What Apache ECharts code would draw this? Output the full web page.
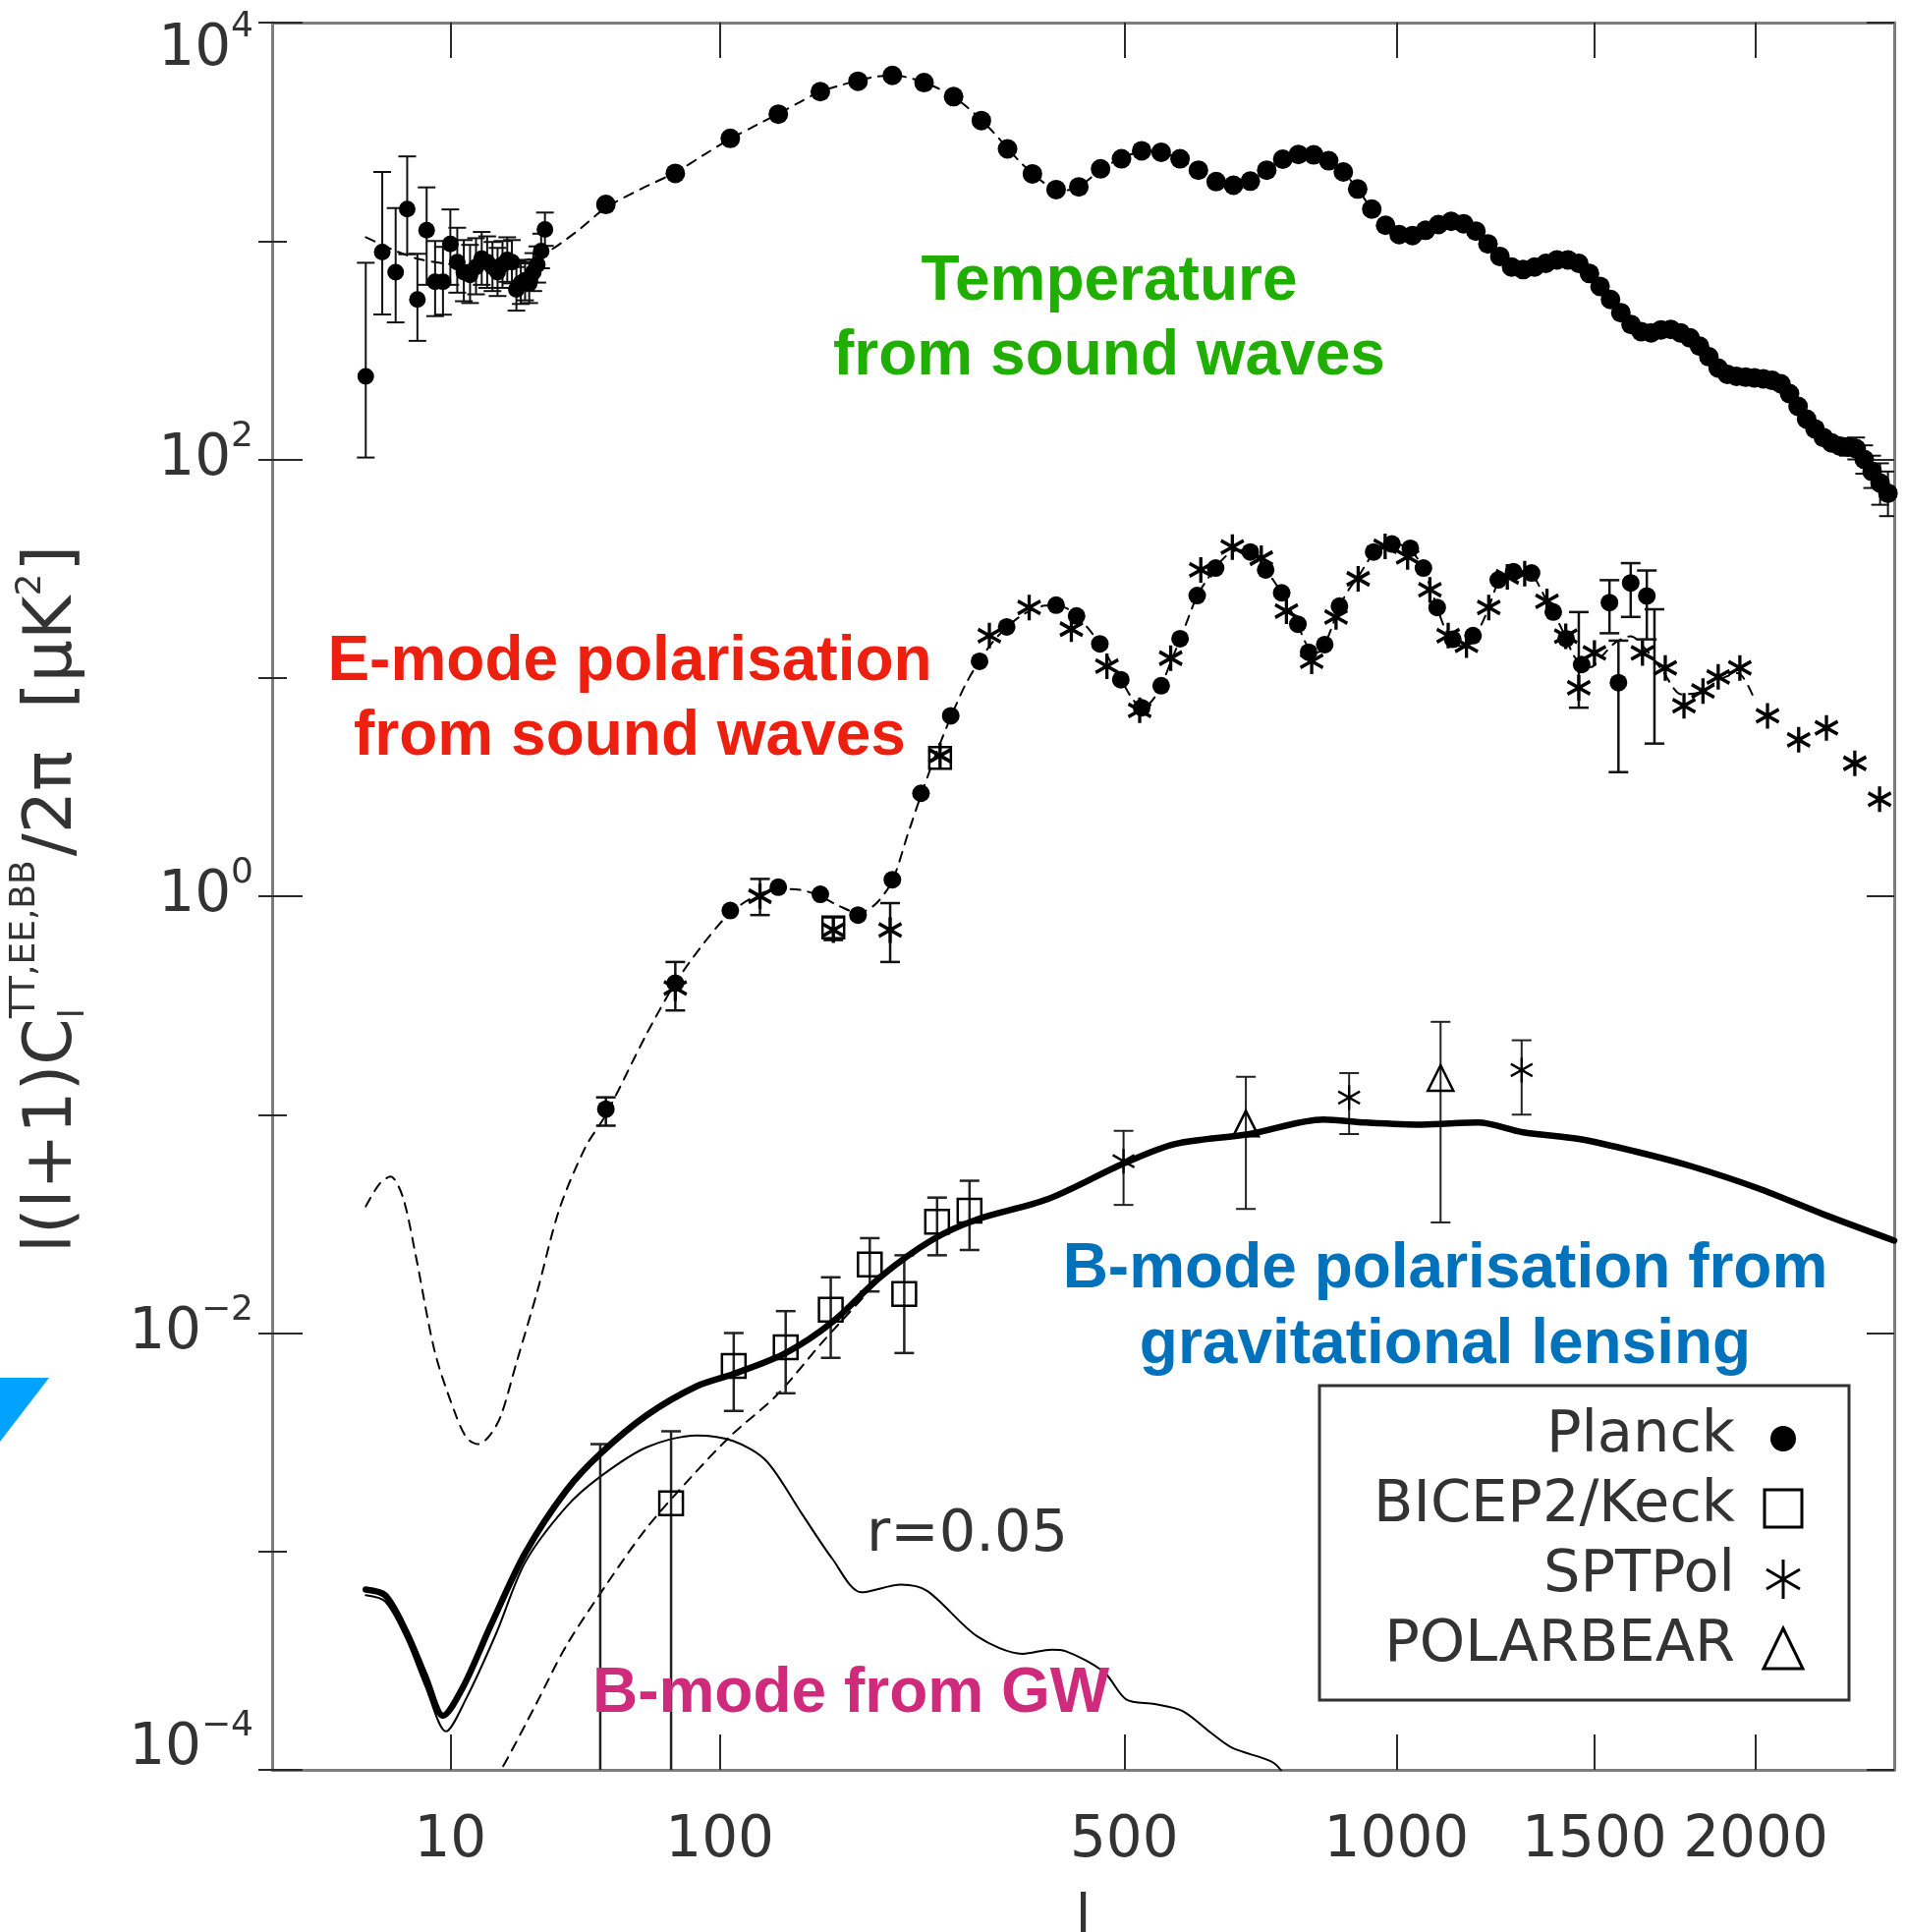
<!DOCTYPE html>
<html>
<head>
<meta charset="utf-8">
<script src="https://cdn.jsdelivr.net/npm/echarts@6/dist/echarts.min.js"></script>
<style>
  html, body { margin: 0; padding: 0; background: #fff; }
  #chart { width: 1940px; height: 1966px; }
</style>
</head>
<body>
<div id="chart"></div>
<script>
// ---- axis settings -------------------------------------------------------
const lTicks = [10, 100, 500, 1000, 1500, 2000];   // multipole tick labels
const lMax = 2500;
const yExpMin = -4, yExpMax = 4;                      // decades shown

// ---- temperature (TT) ------------------------------------------------------
// Planck low-l: [l, D_l, low, high]
const ttLowL = [
  [2, 240, 102, 795], [3, 890, 461, 2070], [4, 720, 424, 1415], [5, 1400, 870, 2440],
  [6, 540, 349, 874], [7, 1120, 630, 1760], [8, 650, 453, 1000], [9, 650, 460, 940],
  [10, 970, 630, 1395], [11, 800, 580, 1150], [12, 720, 530, 1010], [13, 700, 520, 960],
  [14, 760, 570, 1030], [15, 830, 630, 1100], [16, 800, 610, 1050], [17, 760, 590, 990],
  [18, 720, 560, 930], [19, 780, 610, 1000], [20, 820, 650, 1040], [21, 800, 640, 1010],
  [22, 600, 480, 760], [23, 640, 515, 800], [24, 660, 535, 820], [25, 640, 520, 790],
  [26, 720, 590, 880], [27, 780, 645, 945], [28, 900, 750, 1080], [29, 1130, 950, 1350]
];
// Planck binned: [l, D_l]
const ttBinned = [
  [48, 1470], [77, 2040], [106, 2950], [136, 3810], [166, 4830], [196, 5390], [226, 5730],
  [256, 5310], [286, 4580], [316, 3560], [346, 2640], [376, 2030], [406, 1720], [436, 1770],
  [466, 2140], [496, 2380], [526, 2590], [556, 2550], [586, 2380], [616, 2110], [646, 1870],
  [676, 1800], [706, 1880], [736, 2110], [766, 2370], [796, 2490], [826, 2480], [856, 2330],
  [886, 2070], [916, 1730], [946, 1400], [976, 1180], [1006, 1070], [1036, 1060], [1066, 1120],
  [1096, 1190], [1126, 1230], [1156, 1200], [1186, 1110], [1216, 970], [1246, 850], [1276, 760],
  [1306, 740], [1336, 760], [1366, 790], [1396, 820], [1426, 820], [1456, 790], [1486, 710],
  [1516, 620], [1546, 540], [1576, 470], [1606, 415], [1636, 385], [1666, 380], [1696, 392],
  [1726, 394], [1756, 380], [1786, 360], [1816, 330], [1846, 295], [1876, 262], [1906, 245],
  [1936, 240], [1966, 238], [1996, 236], [2026, 234], [2056, 230], [2086, 222], [2116, 200],
  [2146, 175], [2176, 153], [2206, 138], [2236, 126], [2266, 119], [2296, 115], [2326, 114],
  [2356, 112], [2386, 100], [2416, 88], [2446, 78], [2476, 70]
];
// high-l error bars: [l, low, high]
const ttBinnedErr = [
  [2326, 104, 125], [2356, 100, 126], [2386, 86, 116], [2416, 74, 104], [2446, 62, 96], [2476, 55, 88]
];
// best-fit model (dashed)
const ttModel = [
  [2, 1040], [3, 960], [4, 900], [6, 830], [9, 790], [13, 775], [20, 790], [28, 860], [38, 1100],
  [48, 1420], [62, 1740], [77, 2060], [92, 2500], [106, 2940], [121, 3370], [136, 3830],
  [151, 4330], [166, 4830], [181, 5150], [196, 5430], [211, 5650], [226, 5740], [241, 5600],
  [256, 5320], [271, 4980], [286, 4580], [301, 4080], [316, 3580], [331, 3100], [346, 2660],
  [361, 2300], [376, 2040], [391, 1840], [406, 1730], [421, 1710], [436, 1770], [451, 1930],
  [466, 2130], [481, 2270], [496, 2390], [511, 2500], [526, 2580], [541, 2590], [556, 2550],
  [571, 2470], [586, 2380], [601, 2240], [616, 2110], [631, 1980], [646, 1880], [661, 1820],
  [676, 1800], [691, 1830], [706, 1890], [721, 1990], [736, 2110], [751, 2250], [766, 2370],
  [781, 2450], [796, 2490], [811, 2500], [826, 2480], [841, 2420], [856, 2330], [871, 2210],
  [886, 2070], [901, 1900], [916, 1730], [946, 1400], [976, 1180], [1006, 1070], [1036, 1060],
  [1066, 1120], [1096, 1190], [1126, 1230], [1156, 1200], [1186, 1110], [1216, 970], [1246, 850],
  [1276, 770], [1306, 745], [1336, 760], [1366, 790], [1396, 815], [1426, 815], [1456, 785],
  [1486, 710], [1516, 620], [1546, 540], [1576, 470], [1606, 420], [1636, 390], [1666, 385],
  [1696, 392], [1726, 392], [1756, 380], [1786, 358], [1816, 328], [1846, 295], [1876, 265],
  [1906, 248], [1936, 240], [1996, 236], [2056, 228], [2116, 198], [2176, 154], [2236, 128],
  [2296, 115], [2356, 108], [2416, 90], [2476, 71], [2500, 66]
];

// ---- E-mode polarisation (EE) ---------------------------------------------
const eePlanck = [
  [48, 0.106], [77, 0.40], [106, 0.86], [136, 1.10], [166, 1.02], [196, 0.82], [226, 1.19],
  [253, 2.96], [283, 6.7], [314, 11.9], [345, 17.1], [406, 21.5], [433, 19.2], [465, 14.3],
  [495, 9.8], [526, 7.3], [556, 9.2], [586, 15.1], [614, 23.8], [645, 31.8], [706, 37.7],
  [734, 31.2], [764, 24.5], [795, 17.6], [816, 13.1], [848, 14.2], [878, 21.3], [950, 37.7],
  [990, 41], [1031, 39.2], [1061, 31.8], [1093, 21], [1130, 15], [1179, 15.6], [1242, 28.1],
  [1281, 30.6], [1328, 30.2], [1386, 20], [1421, 15.1], [1464, 11.5], [1543, 22.1],
  [1569, 9.5], [1605, 27.2], [1653, 23.7]
];
const eeSptpol = [
  [77, 0.38], [124, 1.0], [176, 0.70], [224, 0.70], [272, 4.4], [325, 15.6], [372, 21],
  [426, 16.7], [475, 11.3], [523, 7.1], [571, 12.3], [620, 31.2], [674, 39.7], [726, 35.3],
  [773, 20.2], [822, 11.9], [871, 19], [917, 28.4], [975, 40], [1025, 35.8], [1076, 25.3],
  [1119, 15.6], [1163, 14.1], [1218, 21], [1265, 29], [1310, 30], [1369, 22.4], [1420, 15.5],
  [1456, 9.0], [1500, 13], [1640, 13], [1709, 11.1], [1767, 7.45], [1827, 8.7], [1876, 10.1],
  [1947, 11.1], [2040, 6.7], [2148, 5.2], [2247, 5.9], [2351, 4.06], [2444, 2.78]
];
const eeBicep = [[176, 0.72], [272, 4.3]];
// error bars: [l, low, high]
const eeErr = [
  [48, 0.089, 0.12], [77, 0.30, 0.50], [124, 0.82, 1.2], [176, 0.63, 0.80], [224, 0.50, 0.93],
  [1456, 7.3, 20], [1543, 16, 28], [1569, 3.7, 14.8], [1605, 19, 33.5], [1653, 15, 31],
  [1676, 5.0, 20.6]
];
const eeModel = [
  [2, 0.038], [2.8, 0.048], [3.6, 0.052], [4.6, 0.042], [5.8, 0.023], [8, 0.0081], [10.8, 0.0042],
  [12.5, 0.0033], [14.4, 0.0031], [16.5, 0.0034], [18.7, 0.0042], [22, 0.0073], [27, 0.0155],
  [33, 0.037], [41, 0.071], [48, 0.10], [64, 0.234], [77, 0.40], [92, 0.62], [106, 0.84],
  [121, 1.0], [136, 1.08], [151, 1.07], [166, 1.0], [181, 0.9], [196, 0.84], [211, 0.92],
  [226, 1.18], [240, 1.9], [253, 2.9], [268, 4.5], [283, 6.6], [298, 9.2], [314, 12],
  [330, 14.8], [345, 17], [360, 19], [376, 20.5], [391, 21.4], [406, 21.5], [420, 20.8],
  [433, 19.2], [449, 16.8], [465, 14.3], [480, 11.9], [495, 9.9], [510, 8.2], [526, 7.3],
  [541, 7.8], [556, 9.2], [571, 11.8], [586, 15], [600, 19], [614, 23.8], [630, 28], [645, 32],
  [660, 35.5], [676, 38], [691, 38.5], [706, 37.6], [720, 35], [734, 31.3], [749, 27.8],
  [764, 24.4], [780, 20.6], [795, 17.5], [808, 14.8], [822, 13.2], [835, 13.1], [848, 14.2],
  [863, 17.2], [878, 21.2], [898, 25.5], [917, 29], [935, 33.5], [950, 37.5], [970, 40.5],
  [990, 41.2], [1010, 40.6], [1031, 38.8], [1046, 35.5], [1061, 31.8], [1077, 26], [1093, 21],
  [1109, 17.2], [1125, 15.2], [1145, 14], [1163, 14], [1179, 15.2], [1200, 17.6], [1218, 21],
  [1242, 27.5], [1262, 30], [1281, 30.8], [1305, 30.8], [1328, 30], [1350, 26], [1369, 22.4],
  [1386, 20], [1421, 15.2], [1440, 12.8], [1464, 11.4], [1490, 11.2], [1520, 12.5],
  [1560, 14.5], [1605, 15.5], [1650, 13.5], [1700, 10.8], [1760, 8.4], [1820, 8.6],
  [1880, 9.8], [1940, 10.5], [1990, 8.3]
];

// ---- B-mode polarisation (BB) ---------------------------------------------
const bbTotal = [
  [2, 6.7e-4], [3.2, 6.3e-4], [4.9, 4.3e-4], [6.9, 2.65e-4], [9, 1.77e-4], [11.9, 2.4e-4],
  [16.7, 4.6e-4], [24, 9.8e-4], [35, 1.9e-3], [46, 2.8e-3], [64, 4.2e-3], [87.5, 5.7e-3],
  [108, 6.5e-3], [141, 8.1e-3], [175, 0.0112], [216, 0.0182], [264, 0.0267], [311, 0.0331],
  [395, 0.041], [499, 0.0597], [578, 0.0734], [705, 0.0815], [845, 0.095], [934, 0.092],
  [1058, 0.090], [1191, 0.092], [1306, 0.083], [1456, 0.0774], [1616, 0.068], [1787, 0.0582],
  [2006, 0.0461], [2240, 0.0348], [2500, 0.0265]
];
const bbGw = [
  [2, 6.3e-4], [3.2, 5.9e-4], [4.9, 4.0e-4], [6.9, 2.4e-4], [9.4, 1.5e-4], [12.3, 2.1e-4],
  [17.7, 4.2e-4], [24, 8.9e-4], [35, 1.6e-3], [46, 2.2e-3], [64, 3.0e-3], [87.5, 3.4e-3],
  [108, 3.2e-3], [128, 2.6e-3], [152, 1.5e-3], [175, 9.3e-4], [199, 6.5e-4], [234, 7.05e-4],
  [259, 6.6e-4], [311, 4.1e-4], [364, 3.4e-4], [400, 3.55e-4], [418, 3.5e-4], [471, 2.8e-4],
  [503, 2.1e-4], [546, 2.0e-4], [590, 1.86e-4], [634, 1.5e-4], [674, 1.26e-4], [742, 1.1e-4],
  [762, 1.0e-4], [800, 7e-5]
];
const bbLens = [
  [17, 9e-5], [18.7, 1.0e-4], [26.7, 2.0e-4], [35, 3.7e-4], [48, 7.0e-4], [64, 1.28e-3],
  [85, 2.2e-3], [106.5, 3.4e-3], [135, 5.2e-3], [167, 9.0e-3], [200, 0.0145]
];
// measurements: [l, D_l, low, high]
const bbBicep = [
  [46, 4e-5, 1e-6, 3.1e-3], [75, 1.66e-3, 1e-6, 3.55e-3], [108, 7.06e-3, 4.4e-3, 0.0100],
  [141, 8.6e-3, 5.3e-3, 0.0126], [174, 0.0128, 7.7e-3, 0.018], [206, 0.0206, 0.0155, 0.0272],
  [237, 0.0151, 8.1e-3, 0.0227], [269, 0.0323, 0.0227, 0.0417], [303, 0.0363, 0.024, 0.0498]
];
const bbSptpol = [
  [499, 0.0612, 0.0386, 0.0843], [898, 0.1197, 0.0815, 0.155], [1302, 0.160, 0.10, 0.219]
];
const bbPolarbear = [
  [698, 0.091, 0.037, 0.149], [1101, 0.147, 0.0321, 0.266]
];

// ---- scales: l^0.4 horizontally, log10 vertically --------------------------
const lx = l => Math.pow(l, 0.4);
const ly = v => Math.log10(v);
const pts = arr => arr.map(d => [lx(d[0]), ly(d[1])]);
const bars = (arr, iLo, iHi) => arr.map(d => [lx(d[0]), ly(d[iLo]), ly(d[iHi])]);

const FONT = '"DejaVu Sans", sans-serif';
const BOLD = '"Liberation Sans", Arial, sans-serif';
const TXT = '#333';
// open marker outlines (unfilled, so curves show through them)
const ASTERISK = 'path://M0,-1L0,1M-0.866,-0.5L0.866,0.5M-0.866,0.5L0.866,-0.5';
const SQUARE = 'path://M-1,-1L1,-1L1,1L-1,1Z';
const TRIANGLE = 'path://M0,-1L0.95,0.8L-0.95,0.8Z';

function errorBars(data, width, cap, color) {
  return {
    type: 'custom', clip: true, silent: true, z: 3, data: data,
    encode: { x: 0, y: [1, 2] },
    renderItem: function (params, api) {
      const x = api.value(0);
      const a = api.coord([x, api.value(2)]);
      const b = api.coord([x, api.value(1)]);
      const st = { stroke: color, lineWidth: width };
      return {
        type: 'group', children: [
          { type: 'line', shape: { x1: a[0], y1: a[1], x2: b[0], y2: b[1] }, style: st },
          { type: 'line', shape: { x1: a[0] - cap, y1: a[1], x2: a[0] + cap, y2: a[1] }, style: st },
          { type: 'line', shape: { x1: b[0] - cap, y1: b[1], x2: b[0] + cap, y2: b[1] }, style: st }
        ]
      };
    }
  };
}
function modelLine(data, width, dashed, z) {
  return {
    type: 'line', data: pts(data), symbol: 'none', smooth: 0.3, clip: true, silent: true, z: z,
    lineStyle: { color: '#000', width: width, type: dashed ? [10, 8] : 'solid', cap: 'round', join: 'round' }
  };
}
function markers(data, symbol, size, filled, z, lw) {
  return {
    type: 'scatter', data: pts(data), symbol: symbol, symbolSize: size, clip: true, silent: true, z: z,
    itemStyle: filled
      ? { color: '#000', opacity: 1 }
      : { color: 'rgba(0,0,0,0)', borderColor: '#000', borderWidth: lw || 2.5, opacity: 1 }
  };
}

// ---- y axis title, laid out along a rotated baseline ----------------------
const measureCtx = document.createElement('canvas').getContext('2d');
const tw = (t, s) => { measureCtx.font = s + 'px ' + FONT; return measureCtx.measureText(t).width; };
const titleMain = 68, titleSmall = 36;
const t1 = 'l(l+1)C', t2 = 'TT,EE,BB', t3 = '/2\u03c0  [\u03bcK', t4 = '2', t5 = ']';
const p2 = tw(t1, titleMain);
const p3 = p2 + tw(t2, titleSmall) + 4;
const p4 = p3 + tw(t3, titleMain);
const p5 = p4 + tw(t4, titleSmall) + 2;
const titleLen = p5 + tw(t5, titleMain);
const titleText = (x, y, t, s) => ({
  type: 'text', x: x, y: y,
  style: { text: t, fontSize: s, fontFamily: FONT, fill: TXT, align: 'left', verticalAlign: 'middle' }
});
const yTitle = {
  type: 'group', x: 54, y: 915 + titleLen / 2, rotation: Math.PI / 2,
  children: [
    titleText(0, 0, t1, titleMain),
    titleText(p2, -28, t2, titleSmall),
    titleText(p2, 22, 'l', titleSmall),
    titleText(p3, 0, t3, titleMain),
    titleText(p4, -22, t4, titleSmall),
    titleText(p5, 0, t5, titleMain)
  ]
};

// ---- legend (text right-aligned, symbol on the right) ---------------------
const legX = 1766, symX = 1815;
const legendGraphic = {
  type: 'group', z: 20, children: [
    { type: 'rect', shape: { x: 1343, y: 1410, width: 539, height: 320 },
      style: { fill: '#fff', stroke: '#333', lineWidth: 3 } },
    ...['Planck', 'BICEP2/Keck', 'SPTPol', 'POLARBEAR'].map((t, i) => ({
      type: 'text', x: legX, y: 1462 + i * 71,
      style: { text: t, fontSize: 59, fontFamily: FONT, fill: TXT, align: 'right', verticalAlign: 'middle' }
    })),
    { type: 'circle', shape: { cx: symX, cy: 1464, r: 13 }, style: { fill: '#000' } },
    { type: 'rect', shape: { x: symX - 19, y: 1516, width: 38, height: 38 },
      style: { fill: 'none', stroke: '#000', lineWidth: 3 } },
    { type: 'group', x: symX, y: 1607, children: [
      { type: 'line', shape: { x1: 0, y1: -20, x2: 0, y2: 20 }, style: { stroke: '#000', lineWidth: 3 } },
      { type: 'line', shape: { x1: -17, y1: -10, x2: 17, y2: 10 }, style: { stroke: '#000', lineWidth: 3 } },
      { type: 'line', shape: { x1: -17, y1: 10, x2: 17, y2: -10 }, style: { stroke: '#000', lineWidth: 3 } }
    ] },
    { type: 'polygon', shape: { points: [[symX, 1657], [symX - 20, 1698], [symX + 20, 1698]] },
      style: { fill: 'none', stroke: '#000', lineWidth: 3 } }
  ]
};

const note = (x, y, text, color, lh) => ({
  type: 'text', x: x, y: y, z: 15,
  style: { text: text, fontSize: 64, fontWeight: 'bold', fontFamily: BOLD, fill: color,
           align: 'center', verticalAlign: 'middle', lineHeight: lh || 76 }
});

// ---- axes ------------------------------------------------------------------
// decade labels 10^n: exponent raised via bottom padding; end labels nudged inside the frame
const base = { fontSize: 58, fontFamily: FONT, color: TXT };
const sup = { fontSize: 36, lineHeight: 36, fontFamily: FONT, color: TXT };
const supRich = {
  b: Object.assign({ lineHeight: 90 }, base),
  s: Object.assign({ padding: [0, 0, 46, 0] }, sup),
  bt: Object.assign({ lineHeight: 80, padding: [56, 0, 0, 0] }, base),
  st: Object.assign({ padding: [10, 0, 0, 0] }, sup),
  bb: Object.assign({ lineHeight: 84, padding: [0, 0, 42, 0] }, base),
  sb: Object.assign({ padding: [0, 0, 88, 0] }, sup)
};
function decadeLabel(v) {
  const e = Math.round(v);
  const s = e < 0 ? '\u2212' + (-e) : String(e);
  if (e === yExpMax) return '{bt|10}{st|' + s + '}';
  if (e === yExpMin) return '{bb|10}{sb|' + s + '}';
  return '{b|10}{s|' + s + '}';
}
const frame = { show: true, onZero: false, lineStyle: { color: '#7d7d7d', width: 3 } };
const tickStyle = { color: '#2a2a2a', width: 2 };
const yAxisBase = { type: 'value', min: yExpMin, max: yExpMax, splitLine: { show: false } };

const option = {
  animation: false,
  backgroundColor: '#fff',
  grid: { left: 277, top: 23, width: 1651, height: 1778, containLabel: false, outerBoundsMode: 'none' },
  xAxis: [
    {
      type: 'value', min: 0, max: lx(lMax), position: 'bottom',
      axisLine: frame, splitLine: { show: false },
      axisTick: { inside: true, length: 36, customValues: lTicks.map(lx), lineStyle: tickStyle },
      axisLabel: {
        customValues: lTicks.map(lx), margin: 44, fontSize: 58, fontFamily: FONT, color: TXT,
        formatter: v => String(Math.round(Math.pow(v, 2.5)))
      },
      name: 'l', nameLocation: 'middle', nameGap: 125,
      nameTextStyle: { fontSize: 58, fontFamily: FONT, color: TXT }
    },
    {
      type: 'value', min: 0, max: lx(lMax), position: 'top',
      axisLine: frame, splitLine: { show: false },
      axisTick: { inside: true, length: 36, customValues: lTicks.map(lx), lineStyle: tickStyle },
      axisLabel: { show: false }
    }
  ],
  yAxis: [
    Object.assign({}, yAxisBase, {
      position: 'left', interval: 2, axisLine: frame,
      axisTick: { inside: true, length: 31, lineStyle: tickStyle },
      axisLabel: { margin: 19, formatter: decadeLabel, rich: supRich }
    }),
    Object.assign({}, yAxisBase, {
      position: 'left', interval: 1, axisLine: { show: false },
      axisTick: { inside: true, length: 15, lineStyle: tickStyle }, axisLabel: { show: false }
    }),
    Object.assign({}, yAxisBase, {
      position: 'right', interval: 2, axisLine: frame,
      axisTick: { inside: true, length: 28, lineStyle: tickStyle }, axisLabel: { show: false }
    }),
    Object.assign({}, yAxisBase, {
      position: 'right', interval: 1, axisLine: { show: false },
      axisTick: { inside: true, length: 14, lineStyle: tickStyle }, axisLabel: { show: false }
    })
  ],
  series: [
    modelLine(ttModel, 2, true, 2),
    modelLine(eeModel, 2, true, 2),
    modelLine(bbLens, 2, true, 2),
    modelLine(bbGw, 2, false, 2),
    modelLine(bbTotal, 6.5, false, 3),
    errorBars(bars(ttLowL, 2, 3), 2, 9, '#111'),
    errorBars(bars(ttBinnedErr, 1, 2), 2, 9, '#111'),
    errorBars(bars(eeErr, 1, 2), 2.5, 10, '#111'),
    errorBars(bars(bbBicep, 2, 3), 2.5, 10, '#222'),
    errorBars(bars(bbSptpol, 2, 3), 2, 10, '#222'),
    errorBars(bars(bbPolarbear, 2, 3), 2, 10, '#222'),
    markers(ttLowL, 'circle', 17, true, 5),
    markers(ttBinned, 'circle', 20, true, 5),
    markers(eePlanck, 'circle', 18, true, 5),
    markers(eeSptpol, ASTERISK, [23, 26], false, 6, 3.5),
    markers(eeBicep, SQUARE, 22, false, 6),
    markers(bbBicep, SQUARE, 24, false, 6),
    markers(bbSptpol, ASTERISK, [22, 25], false, 6, 2.5),
    markers(bbPolarbear, TRIANGLE, [26, 26], false, 6)
  ],
  graphic: [
    yTitle,
    note(1129, 325, 'Temperature\nfrom sound waves', '#20ae00'),
    note(641, 712, 'E-mode polarisation\nfrom sound waves', '#ed2010'),
    note(1471, 1331, 'B-mode polarisation from\ngravitational lensing', '#0072bc', 77),
    note(866, 1724, 'B-mode from GW', '#cf2a7b'),
    { type: 'text', x: 882, y: 1563, z: 15,
      style: { text: 'r=0.05', fontSize: 59, fontFamily: FONT, fill: TXT, align: 'left', verticalAlign: 'middle' } },
    legendGraphic,
    { type: 'polygon', shape: { points: [[0, 1402], [50, 1402], [0, 1467]] }, style: { fill: '#00a3ff' } }
  ]
};

const chart = echarts.init(document.getElementById('chart'), null, { renderer: 'canvas' });
chart.setOption(option);
</script>
</body>
</html>
